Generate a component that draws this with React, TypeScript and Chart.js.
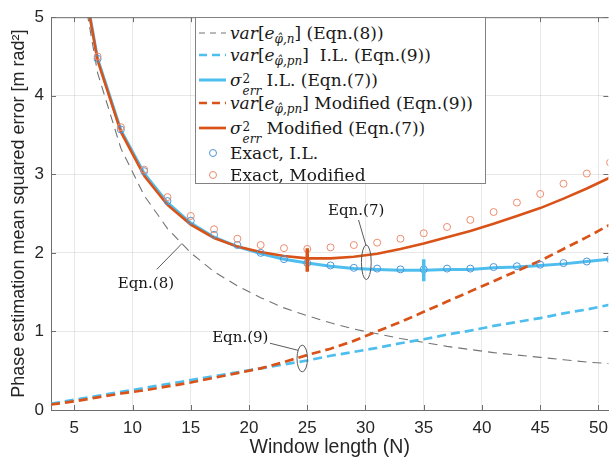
import React, { useEffect, useRef } from "react";
import { Chart, registerables } from "chart.js";

Chart.register(...registerables);

// ---------- data ----------
const N_LINE = [3, 5, 7, 9, 11, 13, 15, 17, 19, 21, 23, 25, 27, 29, 31, 33, 35, 37, 39, 41, 43, 45, 47, 49, 51];
const VAR_N = [10.0, 6.0, 4.29, 3.33, 2.73, 2.31, 2.0, 1.76, 1.58, 1.43, 1.3, 1.2, 1.11, 1.03, 0.97, 0.91, 0.86, 0.81, 0.77, 0.73, 0.7, 0.67, 0.64, 0.61, 0.59];
const VAR_PN_IL = [0.08, 0.13, 0.18, 0.23, 0.28, 0.33, 0.38, 0.43, 0.48, 0.53, 0.58, 0.63, 0.69, 0.74, 0.79, 0.85, 0.9, 0.96, 1.01, 1.07, 1.12, 1.17, 1.23, 1.28, 1.34];
const SIG_IL = [10.08, 6.13, 4.47, 3.56, 3.01, 2.64, 2.38, 2.2, 2.08, 1.99, 1.92, 1.87, 1.83, 1.8, 1.79, 1.78, 1.78, 1.79, 1.79, 1.81, 1.82, 1.84, 1.86, 1.89, 1.92];
const VAR_PN_MOD = [0.07, 0.11, 0.16, 0.21, 0.25, 0.3, 0.35, 0.41, 0.47, 0.53, 0.61, 0.7, 0.78, 0.88, 1.0, 1.12, 1.25, 1.38, 1.51, 1.64, 1.77, 1.9, 2.05, 2.2, 2.36];
const SIG_MOD = [10.07, 6.11, 4.45, 3.54, 2.98, 2.61, 2.36, 2.19, 2.08, 2.01, 1.96, 1.93, 1.93, 1.95, 1.99, 2.05, 2.12, 2.2, 2.28, 2.37, 2.47, 2.57, 2.69, 2.82, 2.96];

const N_EXACT = [7, 9, 11, 13, 15, 17, 19, 21, 23, 25, 27, 29, 31, 33, 35, 37, 39, 41, 43, 45, 47, 49, 51];
const EXACT_IL = [4.47, 3.57, 3.04, 2.66, 2.41, 2.23, 2.1, 2.0, 1.92, 1.87, 1.84, 1.81, 1.8, 1.79, 1.79, 1.8, 1.8, 1.82, 1.83, 1.85, 1.87, 1.89, 1.92];
const EXACT_MOD = [4.5, 3.6, 3.06, 2.71, 2.47, 2.3, 2.18, 2.1, 2.06, 2.05, 2.07, 2.1, 2.13, 2.18, 2.25, 2.33, 2.42, 2.52, 2.64, 2.75, 2.88, 3.01, 3.15];

// minimum markers (vertical bars): [N, low, high]
const MIN_IL = [35, 1.64, 1.92];
const MIN_MOD = [25, 1.76, 2.06];

const X_TICKS = [5, 10, 15, 20, 25, 30, 35, 40, 45, 50];
const Y_TICKS = [0, 1, 2, 3, 4, 5];
const X_MIN = 3;
const X_MAX = 50.85;

const X_TITLE = "Window length (N)";
const Y_TITLE = "Phase estimation mean squared error [m rad\u00B2]";

// annotations in data units
const ANN_TEXT = [
  { text: "Eqn.(8)", n: 11.15, v: 1.6 },
  { text: "Eqn.(7)", n: 29.2, v: 2.53 },
  { text: "Eqn.(9)", n: 19.25, v: 0.91 },
];
const ANN_LEADERS = [
  [12.08, 1.79, 14.25, 2.12],
  [29.4, 2.42, 30.05, 2.09],
  [21.8, 0.85, 24.2, 0.76],
];
const ANN_ELLIPSES = [
  { n: 30.07, v: 1.88, rn: 0.42, rv: 0.22 },
  { n: 24.57, v: 0.656, rn: 0.45, rv: 0.17 },
];

// ---------- styles ----------
const BLUE = "rgb(77,190,238)";
const RED = "rgb(217,83,25)";
const GRAY = "rgb(115,115,115)";
const BLUE_PT = "rgb(80,150,215)";
const RED_PT = "rgb(236,140,110)";
const AXIS = "rgb(110,110,110)";
const TXT = "rgb(38,38,38)";

const pts = (xs: number[], ys: number[]) => xs.map((x, i) => ({ x, y: ys[i] }));

const framePlugin = {
  id: "frameAndNotes",
  afterDatasetsDraw(chart: any) {
    const { ctx, scales } = chart;
    const x = scales.x;
    const y = scales.y;
    ctx.save();
    ctx.strokeStyle = "rgb(90,90,90)";
    ctx.lineWidth = 1;
    ANN_LEADERS.forEach(([n1, v1, n2, v2]) => {
      ctx.beginPath();
      ctx.moveTo(x.getPixelForValue(n1), y.getPixelForValue(v1));
      ctx.lineTo(x.getPixelForValue(n2), y.getPixelForValue(v2));
      ctx.stroke();
    });
    ANN_ELLIPSES.forEach((e) => {
      const cx = x.getPixelForValue(e.n);
      const cy = y.getPixelForValue(e.v);
      const rx = Math.abs(x.getPixelForValue(e.n + e.rn) - cx);
      const ry = Math.abs(y.getPixelForValue(e.v + e.rv) - cy);
      ctx.beginPath();
      ctx.ellipse(cx, cy, rx, ry, 0, 0, Math.PI * 2);
      ctx.stroke();
    });
    ctx.fillStyle = "rgb(20,20,20)";
    ctx.font = '15px "DejaVu Serif"';
    ctx.textAlign = "center";
    ctx.textBaseline = "middle";
    ANN_TEXT.forEach((t) => {
      ctx.fillText(t.text, x.getPixelForValue(t.n), y.getPixelForValue(t.v));
    });
    ctx.restore();
  },
  afterDraw(chart: any) {
    const { ctx, chartArea: a, scales } = chart;
    const x = scales.x;
    const y = scales.y;
    ctx.save();
    ctx.strokeStyle = AXIS;
    ctx.lineWidth = 1;
    const line = (x1: number, y1: number, x2: number, y2: number) => {
      ctx.beginPath();
      ctx.moveTo(x1, y1);
      ctx.lineTo(x2, y2);
      ctx.stroke();
    };
    line(a.left, a.top + 0.5, a.right, a.top + 0.5);
    X_TICKS.forEach((v) => {
      const px = Math.round(x.getPixelForValue(v)) + 0.5;
      line(px, a.bottom, px, a.bottom - 5);
      line(px, a.top, px, a.top + 5);
    });
    Y_TICKS.forEach((v) => {
      const py = Math.round(y.getPixelForValue(v)) + 0.5;
      line(a.left, py, a.left + 5, py);
      line(a.right, py, a.right - 5, py);
    });
    ctx.restore();
  },
};

const Sub = ({ children }: { children: React.ReactNode }) => (
  <span style={{ fontSize: 12, verticalAlign: -4, fontStyle: "italic", lineHeight: 0 }}>{children}</span>
);
const Stack = ({ sup, sub }: { sup: string; sub: string }) => (
  <span
    style={{
      display: "inline-block",
      verticalAlign: -9,
      fontSize: 12,
      lineHeight: "12px",
      marginLeft: 1,
    }}
  >
    <span style={{ display: "block" }}>{sup}</span>
    <span style={{ display: "block", fontStyle: "italic" }}>{sub}</span>
  </span>
);
const Var = ({ s }: { s: string }) => (
  <span>
    <i>var</i>[<i>e</i>
    <Sub>{s}</Sub>]
  </span>
);

type Row = { kind: "line" | "dash" | "circle"; color: string; width: number; dash?: string; content: React.ReactNode; cy: number };

const ROWS: Row[] = [
  { kind: "dash", color: GRAY, width: 1, dash: "6 5", content: <><Var s={"\u03C6\u0302,n"} /> (Eqn.(8))</>, cy: 15 },
  { kind: "dash", color: BLUE, width: 2.7, dash: "8 5", content: <><Var s={"\u03C6\u0302,pn"} />&nbsp; I.L. (Eqn.(9))</>, cy: 37 },
  { kind: "line", color: BLUE, width: 3, content: <><i>σ</i><Stack sup="2" sub="err" /> I.L. (Eqn.(7))</>, cy: 62 },
  { kind: "dash", color: RED, width: 2.7, dash: "8 5", content: <><Var s={"\u03C6\u0302,pn"} /> Modified (Eqn.(9))</>, cy: 85 },
  { kind: "line", color: RED, width: 2.7, content: <><i>σ</i><Stack sup="2" sub="err" /> Modified (Eqn.(7))</>, cy: 110 },
  { kind: "circle", color: BLUE_PT, width: 1, content: <>Exact, I.L.</>, cy: 135 },
  { kind: "circle", color: RED_PT, width: 1, content: <>Exact, Modified</>, cy: 157 },
];

const Legend = () => (
  <div
    style={{
      position: "absolute",
      left: 195,
      top: 17,
      width: 291,
      height: 167,
      boxSizing: "border-box",
      border: "1px solid rgb(130,130,130)",
      background: "#fff",
      fontFamily: '"DejaVu Serif", serif',
      fontSize: 17,
      color: "rgb(25,25,25)",
    }}
  >
    {ROWS.map((r, i) => (
      <div key={i} style={{ position: "absolute", left: 0, top: r.cy - 12, height: 24, width: 289, whiteSpace: "nowrap" }}>
        <svg width={34} height={24} style={{ position: "absolute", left: 0, top: 0 }}>
          {r.kind === "circle" ? (
            <circle cx={17} cy={12} r={3.5} fill="none" stroke={r.color} strokeWidth={1} />
          ) : (
            <line x1={3} y1={12} x2={30} y2={12} stroke={r.color} strokeWidth={r.width} strokeDasharray={r.dash} />
          )}
        </svg>
        <span style={{ position: "absolute", left: 34, top: 0, lineHeight: "24px" }}>{r.content}</span>
      </div>
    ))}
  </div>
);

export default function App() {
  const ref = useRef<HTMLCanvasElement>(null);
  useEffect(() => {
    if (!ref.current) return;
    const lineDs = (label: string, ys: number[], color: string, width: number, dash: number[], order: number) => ({
      type: "line" as const,
      label,
      data: pts(N_LINE, ys),
      borderColor: color,
      backgroundColor: color,
      borderWidth: width,
      borderDash: dash,
      pointRadius: 0,
      tension: 0,
      clip: 0,
      order,
    });
    const ptDs = (label: string, ys: number[], color: string, order: number) => ({
      type: "line" as const,
      label,
      data: pts(N_EXACT, ys),
      showLine: false,
      pointStyle: "circle",
      pointRadius: 3.5,
      pointBorderWidth: 1,
      pointBorderColor: color,
      pointBackgroundColor: "rgba(0,0,0,0)",
      borderColor: color,
      order,
    });
    const barDs = (label: string, m: number[], color: string, order: number) => ({
      type: "line" as const,
      label,
      data: [
        { x: m[0], y: m[1] },
        { x: m[0], y: m[2] },
      ],
      borderColor: color,
      borderWidth: 3.5,
      pointRadius: 0,
      order,
    });
    const chart = new Chart(ref.current, {
      type: "line",
      data: {
        datasets: [
          lineDs("var[e_n] (Eqn.(8))", VAR_N, GRAY, 1.1, [9, 6], 10),
          lineDs("var[e_pn] I.L. (Eqn.(9))", VAR_PN_IL, BLUE, 2.7, [9, 5], 9),
          lineDs("sigma_err^2 I.L. (Eqn.(7))", SIG_IL, BLUE, 3, [], 8),
          lineDs("var[e_pn] Modified (Eqn.(9))", VAR_PN_MOD, RED, 2.7, [9, 5], 7),
          lineDs("sigma_err^2 Modified (Eqn.(7))", SIG_MOD, RED, 2.6, [], 6),
          ptDs("Exact, I.L.", EXACT_IL, BLUE_PT, 5),
          ptDs("Exact, Modified", EXACT_MOD, RED_PT, 4),
          barDs("min I.L.", MIN_IL, BLUE, 3),
          barDs("min Modified", MIN_MOD, RED, 2),
        ] as any,
      },
      options: {
        animation: false,
        responsive: false,
        layout: { padding: { top: 10, right: 0, left: 0, bottom: 0 } },
        plugins: { legend: { display: false }, tooltip: { enabled: false } },
        scales: {
          x: {
            type: "linear",
            min: X_MIN,
            max: X_MAX,
            afterBuildTicks: (s: any) => {
              s.ticks = X_TICKS.map((v) => ({ value: v }));
            },
            afterFit: (s: any) => {
              s.height = 58;
            },
            grid: { color: "rgba(0,0,0,0.09)", drawTicks: false },
            border: { color: AXIS },
            ticks: { color: TXT, font: { family: '"Liberation Sans", Arial, sans-serif', size: 17 }, padding: 8, maxRotation: 0 },
            title: {
              display: true,
              text: X_TITLE,
              color: TXT,
              font: { family: '"Liberation Sans", Arial, sans-serif', size: 19.5 },
              padding: { top: 0, bottom: 9 },
            },
          },
          y: {
            type: "linear",
            min: 0,
            max: 5,
            afterBuildTicks: (s: any) => {
              s.ticks = Y_TICKS.map((v) => ({ value: v }));
            },
            afterFit: (s: any) => {
              s.width = 51;
            },
            grid: { color: "rgba(0,0,0,0.09)", drawTicks: false },
            border: { color: AXIS },
            ticks: { color: TXT, font: { family: '"Liberation Sans", Arial, sans-serif', size: 17 }, padding: 7 },
            title: {
              display: true,
              text: Y_TITLE,
              color: TXT,
              font: { family: '"Liberation Sans", Arial, sans-serif', size: 18 },
              padding: { top: 8, bottom: 0 },
            },
          },
        },
      },
      plugins: [framePlugin],
    });
    return () => chart.destroy();
  }, []);

  return (
    <div style={{ position: "fixed", left: 0, top: 0, width: 616, height: 468, background: "#fff", overflow: "hidden" }}>
      <canvas ref={ref} width={616} height={468} style={{ display: "block" }} />
      <Legend />
    </div>
  );
}
